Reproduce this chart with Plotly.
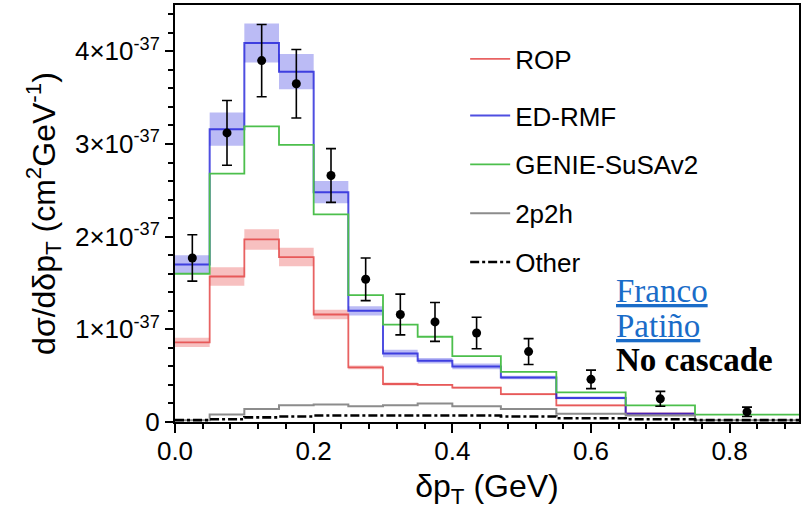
import plotly.graph_objects as go

# ---- data (cross sections in units of 1e-37 cm^2/GeV) ----
bin_edges = [0.0, 0.05, 0.1, 0.15, 0.2, 0.25, 0.3, 0.35, 0.4, 0.47, 0.55, 0.65, 0.75, 0.9]
data_vals = [1.77, 3.12, 3.90, 3.65, 2.66, 1.54, 1.16, 1.08, 0.96, 0.76, 0.46, 0.25, 0.11]
data_err = [0.25, 0.35, 0.39, 0.37, 0.29, 0.23, 0.22, 0.21, 0.17, 0.14, 0.10, 0.08, 0.05]
ed_rmf = [1.70, 3.16, 4.09, 3.78, 2.48, 1.20, 0.74, 0.66, 0.60, 0.48, 0.26, 0.09]
ed_rmf_unc = [0.10, 0.18, 0.21, 0.19, 0.12, 0.05, 0.04, 0.03, 0.03, 0.02, 0.015, 0.01]
rop = [0.86, 1.57, 1.97, 1.78, 1.16, 0.59, 0.41, 0.40, 0.37, 0.30, 0.18, 0.09]
rop_unc = [0.05, 0.10, 0.11, 0.10, 0.05, 0.02, 0.015, 0.01, 0.01, 0.01, 0.01, 0.01]
genie = [1.60, 2.68, 3.19, 2.99, 2.24, 1.37, 1.05, 0.92, 0.71, 0.54, 0.32, 0.18, 0.08]
twop2h = [0.02, 0.08, 0.14, 0.18, 0.19, 0.17, 0.18, 0.20, 0.17, 0.14, 0.09, 0.07, 0.02]
other = [0.02, 0.03, 0.05, 0.06, 0.07, 0.07, 0.07, 0.07, 0.07, 0.06, 0.04, 0.03, 0.02]

y_tickvals = [0, 1, 2, 3, 4]
y_ticktext = ["0", "1×10<sup>-37</sup>", "2×10<sup>-37</sup>", "3×10<sup>-37</sup>", "4×10<sup>-37</sup>"]
x_tickvals = [0.0, 0.2, 0.4, 0.6, 0.8]
x_ticktext = ["0.0", "0.2", "0.4", "0.6", "0.8"]

centers = [(bin_edges[i] + bin_edges[i + 1]) / 2 for i in range(len(data_vals))]


def step(vals):
    xs = bin_edges[: len(vals) + 1]
    ys = list(vals) + [vals[-1]]
    return xs, ys


fig = go.Figure()


def band(vals, unc, color):
    xs, up = step([v + u for v, u in zip(vals, unc)])
    _, lo = step([v - u for v, u in zip(vals, unc)])
    fig.add_trace(go.Scatter(x=xs, y=up, mode="lines", line=dict(width=0, shape="hv"),
                             showlegend=False, hoverinfo="skip"))
    fig.add_trace(go.Scatter(x=xs, y=lo, mode="lines", line=dict(width=0, shape="hv"),
                             fill="tonexty", fillcolor=color, showlegend=False, hoverinfo="skip"))


band(ed_rmf, ed_rmf_unc, "rgba(120,120,235,0.5)")
band(rop, rop_unc, "rgba(240,130,130,0.5)")

legend_font = dict(family="Liberation Sans, Arial, sans-serif", size=26, color="black")

xs, ys = step(rop)
fig.add_trace(go.Scatter(x=xs, y=ys, mode="lines", name="ROP", legend="legend2",
                         line=dict(color="rgba(228,70,70,0.85)", width=1.8, shape="hv")))
xs, ys = step(ed_rmf)
fig.add_trace(go.Scatter(x=xs, y=ys, mode="lines", name="ED-RMF", legendgroup="b",
                         line=dict(color="rgba(20,20,215,0.75)", width=2, shape="hv")))
xs, ys = step(genie)
fig.add_trace(go.Scatter(x=xs, y=ys, mode="lines", name="GENIE-SuSAv2", legendgroup="c",
                         line=dict(color="#4cbf4c", width=1.8, shape="hv")))
xs, ys = step(twop2h)
fig.add_trace(go.Scatter(x=xs, y=ys, mode="lines", name="2p2h", legendgroup="d",
                         line=dict(color="#8c8c8c", width=2, shape="hv")))
xs, ys = step(other)
fig.add_trace(go.Scatter(x=xs, y=ys, mode="lines", name="Other", legendgroup="e",
                         line=dict(color="black", width=2.6, shape="hv", dash="dashdot")))

fig.add_trace(go.Scatter(x=centers, y=data_vals, mode="markers", showlegend=False,
                         marker=dict(color="black", size=9),
                         error_y=dict(type="data", array=data_err, color="black",
                                      thickness=1.6, width=5)))

tick_font = dict(family="Liberation Sans, Arial, sans-serif", size=26, color="black")

fig.update_layout(
    width=803, height=509,
    margin=dict(l=175, r=4, t=5, b=87),
    paper_bgcolor="white", plot_bgcolor="white",
    legend=dict(x=0.465, y=0.791, xanchor="left", yanchor="top", font=legend_font,
                bgcolor="rgba(0,0,0,0)", tracegroupgap=12, itemwidth=40),
    legend2=dict(x=0.465, y=0.927, xanchor="left", yanchor="top", font=legend_font,
                 bgcolor="rgba(0,0,0,0)", itemwidth=40),
    xaxis=dict(range=[0, 0.9], tickvals=x_tickvals, ticktext=x_ticktext, automargin=False,
               showgrid=False, zeroline=False, showline=True, linecolor="black",
               linewidth=2, mirror=True, ticks="outside", ticklen=9, tickwidth=2,
               tickcolor="black", tickfont=tick_font, ticklabelstandoff=-4,
               minor=dict(dtick=0.04, ticks="outside", ticklen=5, tickwidth=1.5,
                          tickcolor="black", showgrid=False),
               title=dict(text="δp<sub>T</sub> (GeV)", standoff=16,
                          font=dict(family="Liberation Sans, Arial, sans-serif", size=32, color="black"))),
    yaxis=dict(range=[0, 4.5], tickvals=y_tickvals, ticktext=y_ticktext, automargin=False,
               showgrid=False, zeroline=False, showline=True, linecolor="black",
               linewidth=2, mirror=True, ticks="outside", ticklen=8, tickwidth=2,
               tickcolor="black", tickfont=tick_font,
               minor=dict(dtick=0.2, ticks="outside", ticklen=5, tickwidth=1.5,
                          tickcolor="black", showgrid=False),
               title=dict(text="dσ/dδp<sub>T</sub> (cm<sup>2</sup>GeV<sup>-1</sup>)", standoff=10,
                          font=dict(family="Liberation Sans, Arial, sans-serif", size=32, color="black"))),
)

serif = "Liberation Serif, Times New Roman, serif"
fig.add_annotation(xref="paper", yref="paper", x=0.7035, y=0.314, xanchor="left", yanchor="middle",
                   text="<u>Franco</u>", showarrow=False,
                   font=dict(family=serif, size=33, color="#1a6cc8"))
fig.add_annotation(xref="paper", yref="paper", x=0.7035, y=0.231, xanchor="left", yanchor="middle",
                   text="<u>Patiño</u>", showarrow=False,
                   font=dict(family=serif, size=33, color="#1a6cc8"))
fig.add_annotation(xref="paper", yref="paper", x=0.7035, y=0.148, xanchor="left", yanchor="middle",
                   text="<b>No cascade</b>", showarrow=False,
                   font=dict(family=serif, size=33, color="black"))

fig.write_html("out.html")
